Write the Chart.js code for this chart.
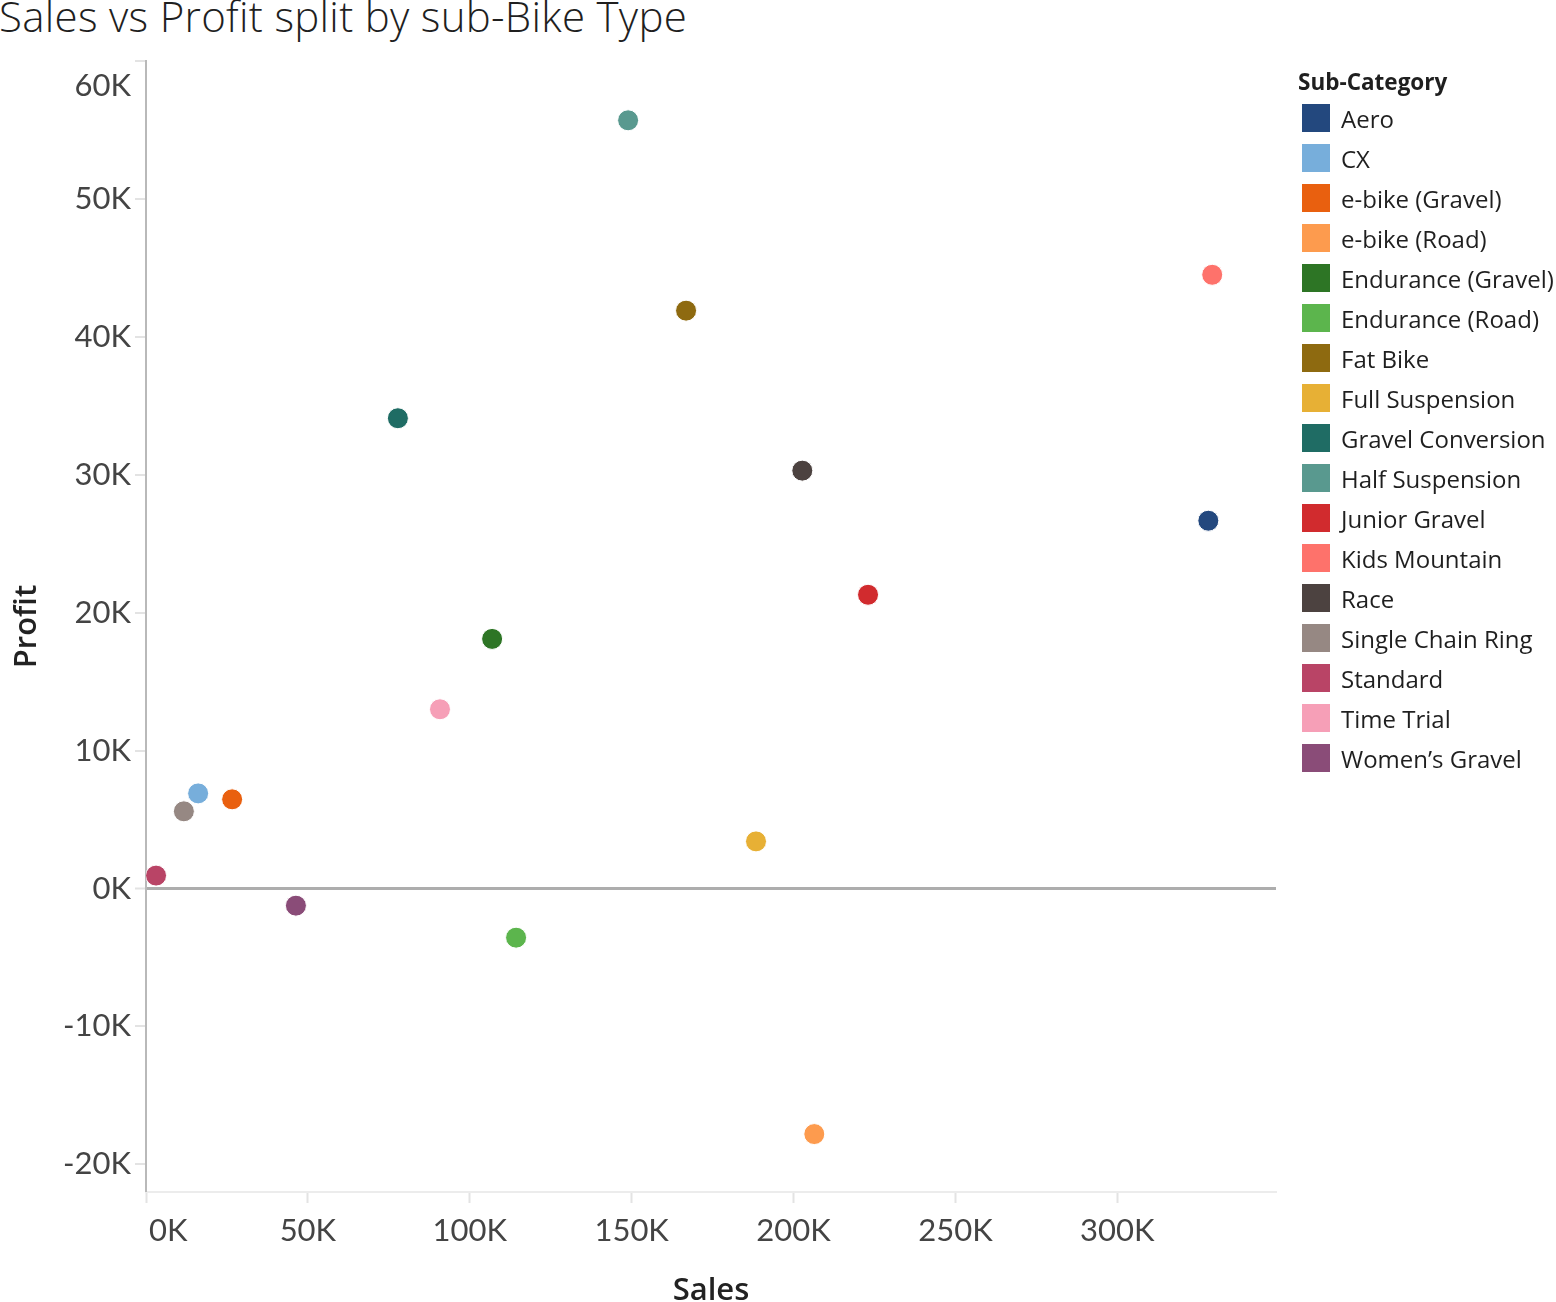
<!DOCTYPE html>
<html>
<head>
<meta charset="utf-8">
<script src="https://cdn.jsdelivr.net/npm/chart.js@4.4.1/dist/chart.umd.min.js"></script>
<style>
    body { margin: 0; background: #fff; width: 1556px; height: 1302px; overflow: hidden; position: relative; font-family: "Open Sans", sans-serif; }
    #titulo { position: absolute; left: -1px; top: -9px; font-size: 42px; font-weight: 300; letter-spacing: 0.3px; line-height: 1.2; color: #1f1f1f; white-space: nowrap; }
    #grafico-wrap { position: absolute; left: 0; top: 0; width: 1556px; height: 1302px; }
    #leyenda { position: absolute; left: 1298px; top: 66px; color: #1f1f1f; }
    #leyenda h4 { margin: 2px 0 2px 0; font-size: 22.5px; font-weight: bold; line-height: 28px; }
    .item { display: flex; align-items: center; height: 40px; font-size: 24px; white-space: nowrap; }
    .cuadro { width: 28px; height: 28px; margin-left: 4px; margin-right: 11px; flex: none; }
</style>
</head>
<body>
<div id="titulo">Sales vs Profit split by sub-Bike Type</div>
<div id="grafico-wrap"><canvas id="grafico"></canvas></div>
<div id="leyenda"><h4>Sub-Category</h4></div>

<script>
// --- DATOS ---
const categorias = ['Aero', 'CX', 'e-bike (Gravel)', 'e-bike (Road)', 'Endurance (Gravel)', 'Endurance (Road)',
    'Fat Bike', 'Full Suspension', 'Gravel Conversion', 'Half Suspension', 'Junior Gravel', 'Kids Mountain',
    'Race', 'Single Chain Ring', 'Standard', 'Time Trial', 'Women\u2019s Gravel'];
const ventas = [328100, 16100, 26600, 206400, 106900, 114300, 166800, 188400, 77800, 148900, 223000, 329300,
    202700, 11700, 3100, 90800, 46300];
const beneficio = [26670, 6900, 6470, -17800, 18100, -3560, 41900, 3420, 34100, 55700, 21300, 44500,
    30300, 5600, 940, 13000, -1240];
const colores = ['#23487e', '#77aedb', '#e9600f', '#fd9b4e', '#2d7525', '#5cb54d', '#8e6a10', '#e7b035',
    '#1f6c64', '#59998f', '#d12b2e', '#fe726b', '#4c4240', '#968883', '#b94466', '#f69fb7', '#8a4c78'];
const ticksX = [0, 50000, 100000, 150000, 200000, 250000, 300000];
const ticksY = [-20000, -10000, 0, 10000, 20000, 30000, 40000, 50000, 60000];

const formatoK = v => Math.round(v / 1000) + 'K';
const fuenteTicks = { family: 'Lato', size: 31 };
const fuenteEjeX = { family: 'Open Sans', size: 31, weight: '600', lineHeight: 0.7 };
const fuenteEjeY = { family: 'Open Sans', size: 31, weight: '600' };

// --- LEYENDA ---
const leyenda = document.getElementById('leyenda');
categorias.forEach((cat, i) => {
    leyenda.innerHTML += `<div class="item"><span class="cuadro" style="background:${colores[i]}"></span>${cat}</div>`;
});

// Tableau empuja las etiquetas de los extremos hacia dentro del eje
const etiquetasBorde = {
    id: 'etiquetasBorde',
    beforeDraw(chart) {
        const { x, y } = chart.scales;
        x.getLabelItems().forEach((item, i) => {
            if (x.ticks[i].value === 0) {
                item.options.textAlign = 'left';
                item.options.translation[0] += 3;
            }
        });
        y.getLabelItems().forEach((item, i) => {
            if (y.ticks[i].value === y.max) item.options.translation[1] += 25;
        });
    }
};

// --- GRAFICO ---
new Chart(document.getElementById('grafico'), {
    type: 'scatter',
    data: {
        datasets: [{
            data: categorias.map((c, i) => ({ x: ventas[i], y: beneficio[i] })),
            backgroundColor: colores,
            borderColor: '#ffffff',
            borderWidth: 1,
            pointRadius: 10.5,
            pointHoverRadius: 10.5
        }]
    },
    plugins: [etiquetasBorde],
    options: {
        responsive: true,
        maintainAspectRatio: false,
        animation: false,
        layout: { padding: { top: 61, right: 280, left: 0, bottom: 0 } },
        plugins: { legend: { display: false }, tooltip: { enabled: false } },
        scales: {
            x: {
                type: 'linear',
                min: 0,
                max: 349000,
                afterBuildTicks: s => { s.ticks = ticksX.map(v => ({ value: v })); },
                afterFit: s => { s.height = 110; },
                ticks: { callback: formatoK, font: fuenteTicks, color: '#444', padding: 9, maxRotation: 0, autoSkip: false },
                grid: { drawOnChartArea: false, tickLength: 11, tickColor: '#e3e3e3', tickWidth: 2 },
                border: { color: '#ececec', width: 2 },
                title: { display: true, text: 'Sales', font: fuenteEjeX, color: '#222', padding: 0 }
            },
            y: {
                min: -22000,
                max: 60000,
                afterBuildTicks: s => { s.ticks = ticksY.map(v => ({ value: v })); },
                afterFit: s => { s.width = 146; },
                ticks: { callback: formatoK, font: fuenteTicks, color: '#444', padding: 4, autoSkip: false },
                grid: {
                    color: ctx => (ctx.tick && ctx.tick.value === 0) ? '#adadad' : 'rgba(0,0,0,0)',
                    lineWidth: ctx => (ctx.tick && ctx.tick.value === 0) ? 3 : 0,
                    tickLength: 11, tickColor: '#e3e3e3', tickWidth: 2
                },
                border: { color: '#b9b9b9', width: 2 },
                title: { display: true, text: 'Profit', font: fuenteEjeY, color: '#222', padding: { top: 9, bottom: 0 } }
            }
        }
    }
});
</script>
</body>
</html>
